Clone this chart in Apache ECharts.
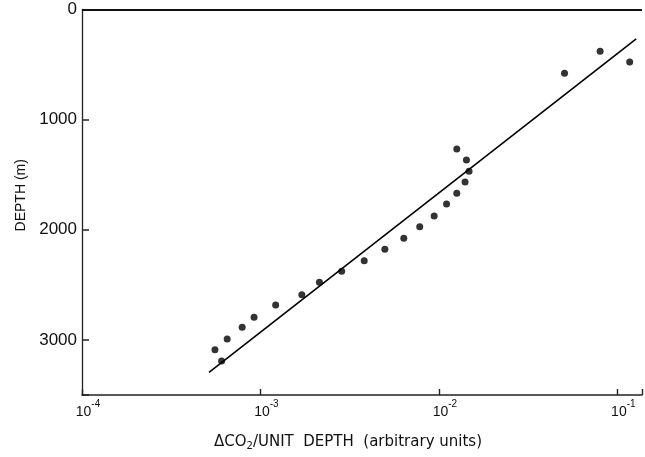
<!DOCTYPE html>
<html>
<head>
<meta charset="utf-8">
<script src="https://cdn.jsdelivr.net/npm/echarts@6/dist/echarts.min.js"></script>
<style>html,body{margin:0;padding:0;background:#fff}#c{width:645px;height:457px}</style>
</head>
<body>
<div id="c"></div>
<script>
// Data
const gradient = [5.56e-4, 6.06e-4, 6.51e-4, 7.90e-4, 9.21e-4, 1.217e-3, 1.706e-3, 2.141e-3, 2.852e-3, 3.816e-3, 4.98e-3, 6.36e-3, 7.81e-3, 9.41e-3, 1.104e-2, 1.260e-2, 1.402e-2, 1.476e-2, 1.427e-2, 1.260e-2, 5.06e-2, 8.01e-2, 1.173e-1];
const depth = [3089, 3191, 2992, 2885, 2794, 2683, 2589, 2477, 2377, 2281, 2177, 2077, 1972, 1875, 1766, 1669, 1566, 1469, 1366, 1267, 579, 380, 477];
const fitGradient = [5.15e-4, 1.276e-1];
const fitDepth = [3294, 266];
const yTickLabels = [0, 1000, 2000, 3000];
const xTickExponents = [-4, -3, -2, -1];
const xTitleMain = 'ΔCO';
const xTitleSub = '2';
const xTitleRest = '/UNIT  DEPTH  (arbitrary units)';
const yTitle = 'DEPTH (m)';

const FONT = "'Liberation Sans', Arial, sans-serif";
const chart = echarts.init(document.getElementById('c'), null, {renderer: 'canvas'});

const pts = gradient.map((g, i) => [g, depth[i]]);
const fit = fitGradient.map((g, i) => [g, fitDepth[i]]);

function xLabel(v) {
  const e = Math.log10(v);
  const r = Math.round(e);
  if (Math.abs(e - r) > 1e-6 || xTickExponents.indexOf(r) < 0) return '';
  return '{a|10}{b|' + r + '}';
}

const option = {
  animation: false,
  backgroundColor: '#fff',
  grid: {left: 82, right: 0, top: 9.5, bottom: 62, containLabel: false},
  xAxis: [{
    type: 'log', logBase: 10, min: 1e-4, max: 0.1375,
    position: 'bottom',
    axisLine: {show: true, onZero: false, lineStyle: {color: '#222', width: 1.5}},
    axisTick: {show: true, inside: true, length: 6, lineStyle: {color: '#222', width: 1.4}},
    splitLine: {show: false},
    minorTick: {show: false},
    axisLabel: {
      show: true, margin: 4, formatter: xLabel, padding: [0, 0, 0, 12],
      showMinLabel: true, showMaxLabel: true,
      rich: {
        a: {fontFamily: FONT, fontSize: 14, color: '#111', lineHeight: 20, verticalAlign: 'bottom'},
        b: {fontFamily: FONT, fontSize: 10, color: '#111', lineHeight: 20, verticalAlign: 'top', padding: [0, 0, 10, 0]}
      }
    },
    name: '{t|' + xTitleMain + '}{s|' + xTitleSub + '}{t|' + xTitleRest + '}',
    nameLocation: 'middle', nameGap: 38,
    nameTextStyle: {
      padding: [0, 28, 0, 0],
      rich: {
        t: {fontFamily: 'DejaVu Sans', fontSize: 15, color: '#111', lineHeight: 18},
        s: {fontFamily: 'DejaVu Sans', fontSize: 10, color: '#111', lineHeight: 18, padding: [8, 0, 0, 0]}
      }
    }
  }],
  yAxis: [{
    type: 'value', inverse: true, min: 0, max: 3500, interval: 1000,
    position: 'left',
    axisLine: {show: true, onZero: false, lineStyle: {color: '#222', width: 1.3}},
    axisTick: {show: true, inside: true, length: 7, lineStyle: {color: '#222', width: 1.5}},
    splitLine: {show: false},
    axisLabel: {
      margin: 5, fontFamily: FONT, fontSize: 17, color: '#111', padding: [4, 0, 0, 0],
      formatter: v => (yTickLabels.indexOf(v) >= 0 ? String(v) : '')
    },
    name: yTitle, nameLocation: 'middle', nameGap: 52, nameRotate: 90,
    nameTextStyle: {fontFamily: FONT, fontSize: 14, color: '#111', padding: [0, 0, 0, 14]}
  }],
  series: [{
    type: 'line', data: fit, xAxisIndex: 0, yAxisIndex: 0,
    symbol: 'none', lineStyle: {color: '#000', width: 1.6}, silent: true,
    markLine: {
      silent: true, symbol: 'none', animation: false,
      label: {show: false},
      lineStyle: {color: '#111', width: 2, type: 'solid'},
      data: [{yAxis: yTickLabels[0]}]
    }
  }, {
    type: 'scatter', data: pts, xAxisIndex: 0, yAxisIndex: 0,
    symbol: 'circle', symbolSize: 7, itemStyle: {color: '#000'}
  }]
};
chart.setOption(option);
</script>
</body>
</html>
